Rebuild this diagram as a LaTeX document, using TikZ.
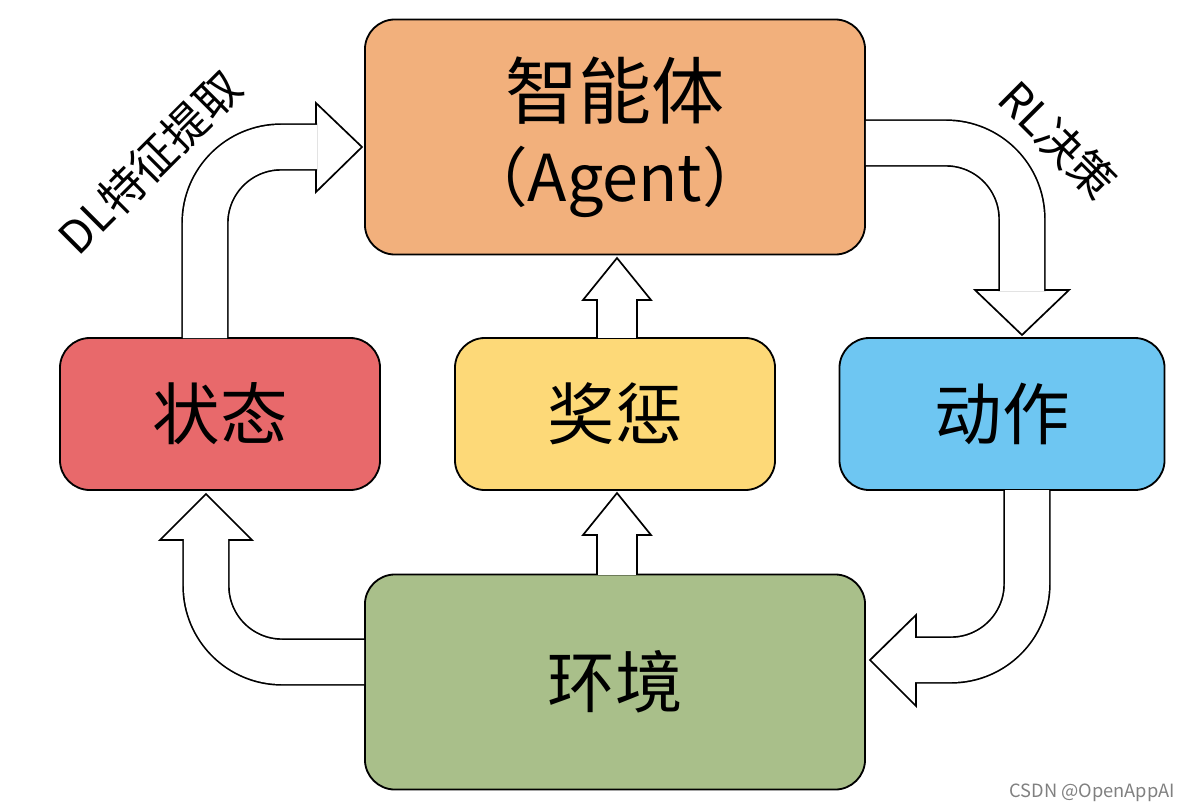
\documentclass[tikz,border=0pt]{standalone}
\usepackage{fontspec}
\setmainfont{Noto Sans CJK SC}
\definecolor{agentc}{HTML}{F2B07C}
\definecolor{statec}{HTML}{E8696B}
\definecolor{rewardc}{HTML}{FDD978}
\definecolor{actionc}{HTML}{6EC6F2}
\definecolor{envc}{HTML}{A9BF8A}
\tikzset{
  box/.style={draw=black, line width=1.3pt, rounded corners=0.75cm, inner sep=0pt,
    font=\fontsize{48}{52}\selectfont, align=center},
  stem/.style={draw=black, line width=1.2pt, double=white, double distance=1.1cm},
  head/.style={draw=black, fill=white, line width=1.2pt, line join=miter},
  tilt/.style={font=\fontsize{32}{36}\selectfont}
}
\begin{document}
\begin{tikzpicture}[x=0.025cm, y=-0.025cm]
\useasboundingbox (0,0) rectangle (1184,810);

\node [box, fill=agentc, minimum width=12.5cm, minimum height=5.875cm] (agent) at (615,137)
  {\fontsize{52}{56}\selectfont 智能体\\[0.25cm]\fontsize{46}{50}\selectfont （Agent）};
\node [box, fill=statec, minimum width=8cm, minimum height=3.8cm] (state) at (220,414) {状态};
\node [box, fill=rewardc, minimum width=8cm, minimum height=3.8cm] (reward) at (615,414) {奖惩};
\node [box, fill=actionc, minimum width=8.125cm, minimum height=3.8cm] (action) at (1002,414) {动作};
\node [box, fill=envc, minimum width=12.5cm, minimum height=5.375cm] (env) at (615,682) {环境};

% state -> agent
\draw [head] (316,103) -- (362,147) -- (316,192) -- cycle;
\draw [stem, rounded corners=1.9cm] (205,338) |- (317,147);
% agent -> action
\draw [head] (975,290) -- (1022,335) -- (1069,290) -- cycle;
\draw [stem, rounded corners=1.9cm] (agent.east |- 0,143) -| (1022,291);
% action -> env
\draw [head] (916,615) -- (870,660) -- (916,706) -- cycle;
\draw [stem, rounded corners=1.9cm] (1027,490) |- (915,660);
% env -> state
\draw [head] (160,540) -- (206,494) -- (252,540) -- cycle;
\draw [stem, rounded corners=1.9cm] (env.west |- 0,662) -| (206,539);
% reward -> agent, env -> reward
\draw [head] (583,300) -- (617,258) -- (651,300) -- cycle;
\draw [stem, double distance=0.95cm] (617,338) -- (617,299);
\draw [head] (583,535) -- (617,493) -- (651,535) -- cycle;
\draw [stem, double distance=0.95cm] (617,575) -- (617,534);

\node [tilt, rotate=45] (dl) at (150,162) {DL特征提取};
\node [tilt, rotate=-45] (rl) at (1058,140) {RL决策};
\node [text=gray, font=\fontsize{13}{15}\selectfont, anchor=east] (mark) at (1180,793) {CSDN @OpenAppAI};
\end{tikzpicture}
\end{document}
